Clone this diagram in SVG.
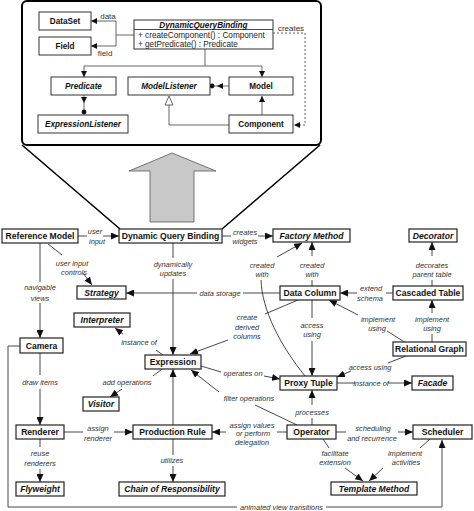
<svg xmlns="http://www.w3.org/2000/svg" width="474" height="511" viewBox="0 0 474 511">
<defs>
<style>
.bg{fill:#fff}
.n rect{fill:#fff;stroke:#222;stroke-width:1.2}
.t{font-family:"Liberation Sans",Arial,sans-serif;font-size:8.6px;font-weight:bold;text-anchor:middle;fill:#111}
.i{font-style:italic}
.u rect{fill:#fff;stroke:#333;stroke-width:1}
.ut{font-family:"Liberation Sans",Arial,sans-serif;font-size:8.2px;font-weight:bold;text-anchor:middle;fill:#111}
.um{font-family:"Liberation Sans",Arial,sans-serif;font-size:8.2px;fill:#222}
.ul{font-family:"Liberation Sans",Arial,sans-serif;font-size:8px;fill:#333;text-anchor:middle}
.l{font-family:"Liberation Sans",Arial,sans-serif;font-size:7.4px;font-style:italic;fill:#333;text-anchor:middle}
.c path{stroke:#333;stroke-width:0.9;fill:none}
.uc path{stroke:#555;stroke-width:0.9;fill:none}
</style>
<marker id="a" markerUnits="userSpaceOnUse" markerWidth="9" markerHeight="7" refX="8" refY="3.5" orient="auto">
<path d="M0,0 L8,3.5 L0,7 z" fill="#111"/>
</marker>
<marker id="s" markerUnits="userSpaceOnUse" markerWidth="7" markerHeight="6" refX="6" refY="3" orient="auto">
<path d="M0,0 L6,3 L0,6 z" fill="#111"/>
</marker>
</defs>
<rect class="bg" x="0" y="0" width="474" height="511"/>

<g id="callout">
<rect x="22" y="1" width="299" height="144" rx="5" fill="#fff" stroke="#000" stroke-width="2"/>
<path d="M22,145 L120,229 M320,145 L222,229" stroke="#000" stroke-width="1.6" fill="none"/>
<path d="M172,153 L216,171 L194,171 L194,222 L150,222 L150,171 L129,171 Z" fill="#c8c8c8" stroke="#555" stroke-width="0.8"/>
</g>

<g id="uml-connectors" class="uc">
<path d="M134,35 H116 M116,21 V46"/>
<path d="M116,21 H91" marker-end="url(#s)"/>
<path d="M116,46 H91" marker-end="url(#s)"/>
<path d="M205,49 V66 M84,66 H262"/>
<path d="M84,66 V77" marker-end="url(#s)"/>
<path d="M262,66 V77" marker-end="url(#s)"/>
<path d="M84,95 V103" marker-end="url(#s)"/>
<path d="M84,103 V112"/>
<path d="M229,86 H217" marker-end="url(#s)"/>
<path d="M217,86 H212"/>
<path d="M262,115 V96" marker-end="url(#s)"/>
<path d="M229,125 H169 V105"/>
<path d="M273,33 H305 V125 H294" stroke-dasharray="2,2" marker-end="url(#s)"/>
<circle cx="84" cy="112" r="2.4" fill="#111"/>
<circle cx="212" cy="86" r="2.4" fill="#111"/>
<path d="M169,96 L173,105 L165,105 Z" fill="#fff" stroke="#333" stroke-width="0.9"/>
<text class="ul" x="108" y="18.5">data</text>
<text class="ul" x="105" y="56">field</text>
<text class="ul" x="291" y="31">creates</text>
</g>
<g id="u-dataset" class="u"><rect x="39" y="12" width="52" height="18"/><text class="ut" x="65" y="24">DataSet</text></g>
<g id="u-field" class="u"><rect x="39" y="37" width="52" height="18"/><text class="ut" x="65" y="49">Field</text></g>
<g id="u-dqb" class="u"><rect x="134" y="20" width="139" height="29"/><path d="M134,29.5 H273" stroke="#333" stroke-width="0.9"/>
<text class="ut i" x="203.5" y="27.5">DynamicQueryBinding</text>
<text class="um" x="138" y="37.5">+ createComponent() : Component</text>
<text class="um" x="138" y="47">+ getPredicate() : Predicate</text></g>
<g id="u-predicate" class="u"><rect x="51" y="77" width="65" height="18"/><text class="ut i" x="83.5" y="89">Predicate</text></g>
<g id="u-modellistener" class="u"><rect x="128" y="77" width="82" height="18"/><text class="ut i" x="169" y="89">ModelListener</text></g>
<g id="u-model" class="u"><rect x="229" y="77" width="64" height="18"/><text class="ut" x="261" y="89">Model</text></g>
<g id="u-exprlistener" class="u"><rect x="38" y="115" width="90" height="18"/><text class="ut i" x="83" y="127">ExpressionListener</text></g>
<g id="u-component" class="u"><rect x="229" y="115" width="64" height="18"/><text class="ut" x="261" y="127">Component</text></g>

<g id="connectors" class="c">
<path d="M78,236 H87 M103,236 H119" marker-end="url(#a)"/>
<path d="M48,244 L62,255 M83,273 L92,285" marker-end="url(#a)"/>
<path d="M40,243 V282 M40,303 V338" marker-end="url(#a)"/>
<path d="M222,236 H231 M258,236 H273" marker-end="url(#a)"/>
<path d="M173,243 V258 M173,279 V355" marker-end="url(#a)"/>
<path d="M280,293 H243 M197,293 H126" marker-end="url(#a)"/>
<path d="M312,286 V280 M312,256 V242" marker-end="url(#a)"/>
<path d="M277,257 L302,243" marker-end="url(#a)"/>
<path d="M261,280 C262,310 280,345 305,376"/>
<path d="M432,286 V280 M432,256 V242" marker-end="url(#a)"/>
<path d="M393,293 H386 M357,293 H340" marker-end="url(#a)"/>
<path d="M432,343 V334 M432,313 V300" marker-end="url(#a)"/>
<path d="M406,343 L387,331 M358,315 L329,300" marker-end="url(#a)"/>
<path d="M406,356 L388,363 M351,371 L337,377" marker-end="url(#a)"/>
<path d="M312,300 V318 M312,341 V376" marker-end="url(#a)"/>
<path d="M298,300 L265,314 M228,340 L190,354" marker-end="url(#a)"/>
<path d="M201,366 L221,372 M264,376 L280,379" marker-end="url(#a)"/>
<path d="M337,383 H355 M388,383 H412" marker-end="url(#a)"/>
<path d="M297,425 L255,405 M219,392 L191,370" marker-end="url(#a)"/>
<path d="M312,425 V418 M312,405 V390" marker-end="url(#a)"/>
<path d="M287,432 H277 M226,432 H212" marker-end="url(#a)"/>
<path d="M64,432 H83 M114,432 H133" marker-end="url(#a)"/>
<path d="M173,425 V369" marker-end="url(#a)"/>
<path d="M173,439 V455 M173,466 V482" marker-end="url(#a)"/>
<path d="M40,439 V447 M40,469 V482" marker-end="url(#a)"/>
<path d="M40,353 V375 M40,389 V425" marker-end="url(#a)"/>
<path d="M163,355 L156,350 M123,334 L115,328" marker-end="url(#a)"/>
<path d="M162,369 L153,376 M122,389 L110,397" marker-end="url(#a)"/>
<path d="M336,432 H346 M398,432 H413" marker-end="url(#a)"/>
<path d="M323,439 L329,448 M345,468 L363,481" marker-end="url(#a)"/>
<path d="M430,439 L420,448 M383,468 L369,481" marker-end="url(#a)"/>
<path d="M20,346 H8 V507 H237 M326,507 H442 V440" marker-end="url(#a)"/>
</g>

<g id="labels">
<text class="l" x="95" y="234">user</text><text class="l" x="97" y="244">input</text>
<text class="l" x="72" y="265.5">user input</text><text class="l" x="74" y="274.5">controls</text>
<text class="l" x="40" y="290">navigable</text><text class="l" x="40" y="300.5">views</text>
<text class="l" x="245" y="235">creates</text><text class="l" x="245" y="243.5">widgets</text>
<text class="l" x="173" y="267">dynamically</text><text class="l" x="173" y="276">updates</text>
<text class="l" x="220" y="296">data storage</text>
<text class="l" x="312" y="268">created</text><text class="l" x="312" y="277">with</text>
<text class="l" x="262" y="268">created</text><text class="l" x="262" y="277">with</text>
<text class="l" x="432" y="268">decorates</text><text class="l" x="432" y="277">parent table</text>
<text class="l" x="371" y="290.5">extend</text><text class="l" x="370" y="300.5">schema</text>
<text class="l" x="432" y="322">implement</text><text class="l" x="432" y="331">using</text>
<text class="l" x="378" y="322">implement</text><text class="l" x="377" y="331">using</text>
<text class="l" x="370" y="369.5">access using</text>
<text class="l" x="312" y="327.5">access</text><text class="l" x="312" y="337">using</text>
<text class="l" x="247" y="320">create</text><text class="l" x="247" y="329.5">derived</text><text class="l" x="247" y="338.5">columns</text>
<text class="l" x="243" y="375.5">operates on</text>
<text class="l" x="371" y="385.5">instance of</text>
<text class="l" x="249" y="400.5">filter operations</text>
<text class="l" x="312" y="414.5">processes</text>
<text class="l" x="252" y="427.5">assign values</text><text class="l" x="253" y="436">or perform</text><text class="l" x="252" y="444.5">delegation</text>
<text class="l" x="98" y="431">assign</text><text class="l" x="98" y="440.5">renderer</text>
<text class="l" x="172" y="462.5">utilizes</text>
<text class="l" x="40" y="455.5">reuse</text><text class="l" x="40" y="465.5">renderers</text>
<text class="l" x="40" y="384.5">draw items</text>
<text class="l" x="139" y="344.5">instance of</text>
<text class="l" x="127" y="384.5">add operations</text>
<text class="l" x="373" y="431">scheduling</text><text class="l" x="372" y="440.5">and recurrence</text>
<text class="l" x="335" y="455.5">facilitate</text><text class="l" x="335" y="464.5">extension</text>
<text class="l" x="405" y="455.5">implement</text><text class="l" x="406" y="464.5">activities</text>
<text class="l" x="281.5" y="509.5">animated view transitions</text>
</g>

<g id="n-refmodel" class="n"><rect x="2" y="229" width="76" height="14"/><text class="t" x="40" y="239.2">Reference Model</text></g>
<g id="n-dqb" class="n"><rect x="119" y="229" width="103" height="14"/><text class="t" x="170.5" y="239.2">Dynamic Query Binding</text></g>
<g id="n-factory" class="n"><rect x="273" y="229" width="77" height="13"/><text class="t i" x="311.5" y="238.7">Factory Method</text></g>
<g id="n-decorator" class="n"><rect x="409" y="229" width="48" height="13"/><text class="t i" x="433" y="238.7">Decorator</text></g>
<g id="n-strategy" class="n"><rect x="77" y="286" width="49" height="13"/><text class="t i" x="101.5" y="295.7">Strategy</text></g>
<g id="n-datacolumn" class="n"><rect x="280" y="286" width="60" height="14"/><text class="t" x="310" y="296.2">Data Column</text></g>
<g id="n-cascaded" class="n"><rect x="393" y="286" width="70" height="14"/><text class="t" x="428" y="296.2">Cascaded Table</text></g>
<g id="n-interpreter" class="n"><rect x="74" y="313" width="56" height="14"/><text class="t i" x="102" y="323.2">Interpreter</text></g>
<g id="n-camera" class="n"><rect x="20" y="338" width="43" height="15"/><text class="t" x="41.5" y="348.7">Camera</text></g>
<g id="n-relgraph" class="n"><rect x="393" y="342" width="73" height="14"/><text class="t" x="429.5" y="352.2">Relational Graph</text></g>
<g id="n-expression" class="n"><rect x="145" y="355" width="56" height="14"/><text class="t" x="173" y="365.2">Expression</text></g>
<g id="n-proxytuple" class="n"><rect x="280" y="376" width="57" height="14"/><text class="t" x="308.5" y="386.2">Proxy Tuple</text></g>
<g id="n-facade" class="n"><rect x="412" y="376" width="41" height="14"/><text class="t i" x="432.5" y="386.2">Facade</text></g>
<g id="n-visitor" class="n"><rect x="83" y="397" width="36" height="14"/><text class="t i" x="101" y="407.2">Visitor</text></g>
<g id="n-renderer" class="n"><rect x="16" y="425" width="48" height="14"/><text class="t" x="40" y="435.2">Renderer</text></g>
<g id="n-prodrule" class="n"><rect x="133" y="425" width="79" height="14"/><text class="t" x="172.5" y="435.2">Production Rule</text></g>
<g id="n-operator" class="n"><rect x="287" y="425" width="49" height="14"/><text class="t" x="311.5" y="435.2">Operator</text></g>
<g id="n-scheduler" class="n"><rect x="413" y="425" width="59" height="14"/><text class="t" x="442.5" y="435.2">Scheduler</text></g>
<g id="n-flyweight" class="n"><rect x="16" y="482" width="48" height="14"/><text class="t i" x="40" y="492.2">Flyweight</text></g>
<g id="n-chain" class="n"><rect x="119" y="482" width="106" height="14"/><text class="t i" x="172" y="492.2">Chain of Responsibility</text></g>
<g id="n-template" class="n"><rect x="331" y="482" width="86" height="13"/><text class="t i" x="374" y="491.7">Template Method</text></g>
</svg>
